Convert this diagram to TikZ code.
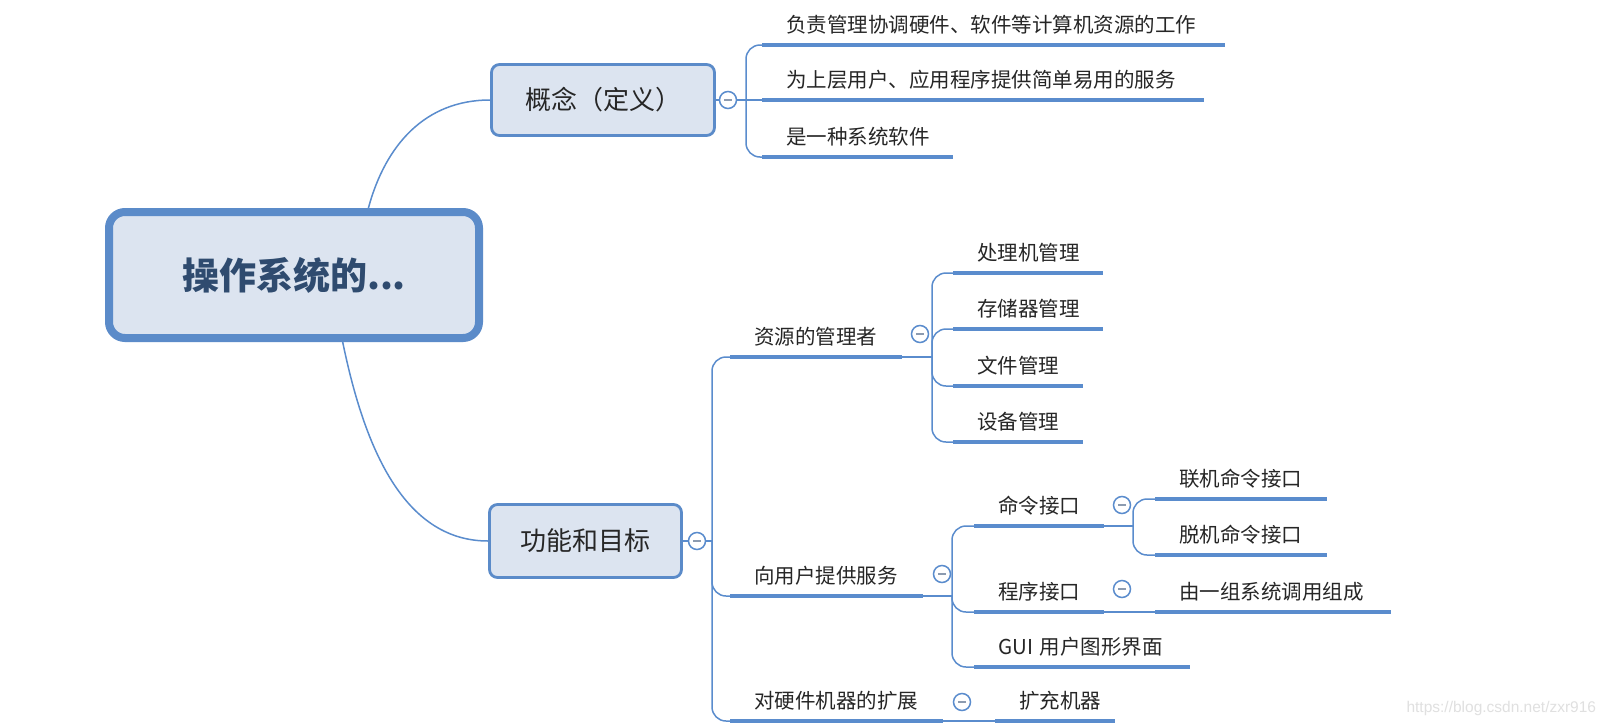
\documentclass[tikz,border=0pt]{standalone}
\usepackage{fontspec}
\setmainfont{Noto Sans CJK SC}
\newfontfamily\urlfont{Liberation Sans}
\usepackage{xcolor}

\definecolor{linkblue}{HTML}{5A8CCD}
\definecolor{boxfill}{HTML}{DCE4F0}
\definecolor{boxline}{HTML}{5B8BC9}
\definecolor{rootink}{HTML}{2F4B6F}
\definecolor{ink}{HTML}{262626}
\definecolor{minusgray}{HTML}{8C9BB0}

\begin{document}
\begin{tikzpicture}[
    x=1pt, y=-1pt,
    rootbox/.style={rectangle, rounded corners=16pt, draw=boxline, line width=8pt, fill=boxfill, minimum width=370pt, minimum height=126pt, font=\fontsize{37}{40}\selectfont\bfseries, text=rootink},
    mainbox/.style={rectangle, rounded corners=8pt, draw=boxline, line width=2.8pt, fill=boxfill, font=\fontsize{26}{30}\selectfont, text=ink},
    leaf/.style={anchor=south west, inner xsep=24pt, inner ysep=12pt, text depth=0pt, align=left, text width=#1, font=\fontsize{20.5}{24}\selectfont, text=ink},
    fold/.style={circle, draw=linkblue, fill=white, line width=1.5pt, minimum size=17pt, inner sep=0pt,
        path picture={\draw[minusgray, line width=1.6pt] ([xshift=-4pt]path picture bounding box.center) -- ([xshift=4pt]path picture bounding box.center);}},
    link/.style={draw=linkblue, line width=1.5pt},
    fan/.style={link, rounded corners=14pt},
    bar/.style={draw=linkblue, line width=4.5pt},
]
    \fill[white] (0,0) rectangle (1604,726);
    \useasboundingbox (0,0) rectangle (1604,726);

    % Central topic and main branches
    \node[rootbox] (root) at (294,275) {操作系统的...};
    \node[mainbox, minimum width=223pt, minimum height=71pt] (concept) at (603,100) {概念（定义）};
    \node[mainbox, minimum width=192pt, minimum height=73pt] (func) at (585.5,541) {功能和目标};

    % Definition leaves
    \node[leaf=415pt] (c1) at (762,45) {负责管理协调硬件、软件等计算机资源的工作};
    \node[leaf=394pt] (c2) at (762,100) {为上层用户、应用程序提供简单易用的服务};
    \node[leaf=143pt] (c3) at (762,157) {是一种系统软件};

    % Function subtopics
    \node[leaf=124pt] (f1) at (730,357) {资源的管理者};
    \node[leaf=145pt] (f2) at (730,596) {向用户提供服务};
    \node[leaf=165pt] (f3) at (730,721) {对硬件机器的扩展};

    % Resource manager leaves
    \node[leaf=102pt] (r1) at (953,273) {处理机管理};
    \node[leaf=102pt] (r2) at (953,329) {存储器管理};
    \node[leaf=82pt] (r3) at (953,386) {文件管理};
    \node[leaf=82pt] (r4) at (953,442) {设备管理};

    % User service leaves
    \node[leaf=82pt] (s1) at (974,526) {命令接口};
    \node[leaf=82pt] (s2) at (974,612) {程序接口};
    \node[leaf=168pt] (s3) at (974,667) {GUI 用户图形界面};
    \node[leaf=124pt] (k1) at (1155,499) {联机命令接口};
    \node[leaf=124pt] (k2) at (1155,555) {脱机命令接口};
    \node[leaf=188pt] (p1) at (1155,612) {由一组系统调用组成};

    % Extension leaf
    \node[leaf=72pt] (e1) at (995,721) {扩充机器};

    % Collapse markers
    \node[fold] (fc) at (728,100) {};
    \node[fold] (ff) at (697,541) {};
    \node[fold] (fr) at (920,334) {};
    \node[fold] (fs) at (942,574) {};
    \node[fold] (fk) at (1122,505) {};
    \node[fold] (fp) at (1122,589) {};
    \node[fold] (fe) at (962,702) {};

    % Fan points
    \coordinate (cfan) at (746,100);
    \coordinate (ffan) at (712,541);
    \coordinate (rfan) at (932,357);
    \coordinate (sfan) at (952,596);
    \coordinate (kfan) at (1133,526);

    % Root to main branches
    \draw[link] (root.42) .. controls +(17,-63) and +(-65,0) .. (concept.west);
    \draw[link] (root.-54) .. controls +(20,97) and +(-88,0) .. (func.west);

    % Definition branch
    \draw[link] (concept.east) -- (fc.west);
    \draw[link] (fc.east) -- (cfan);
    \draw[link] (cfan) -- (c2.south west);
    \foreach \n in {c1,c3} \draw[fan] (cfan) |- (\n.south west);

    % Function branch
    \draw[link] (func.east) -- (ff.west);
    \draw[link] (ff.east) -- (ffan);
    \foreach \n in {f1,f2,f3} \draw[fan] (ffan) |- (\n.south west);

    \draw[link] (f1.south east) -- (rfan);
    \foreach \n in {r1,r2,r3,r4} \draw[fan] (rfan) |- (\n.south west);

    \draw[link] (f2.south east) -- (sfan);
    \foreach \n in {s1,s2,s3} \draw[fan] (sfan) |- (\n.south west);
    \draw[link] (s1.south east) -- (kfan);
    \foreach \n in {k1,k2} \draw[fan] (kfan) |- (\n.south west);
    \draw[link] (s2.south east) -- (p1.south west);

    \draw[link] (f3.south east) -- (e1.south west);

    % Underline bars
    \foreach \n in {c1,c2,c3,f1,f2,f3,r1,r2,r3,r4,s1,s2,s3,k1,k2,p1,e1}
        \draw[bar] (\n.south west) -- (\n.south east);

    % Watermark
    \node[font=\urlfont\fontsize{15.5}{18}\selectfont, text=black!12, anchor=west] (mark) at (1403,708) {https://blog.csdn.net/zxr916};
\end{tikzpicture}
\end{document}
